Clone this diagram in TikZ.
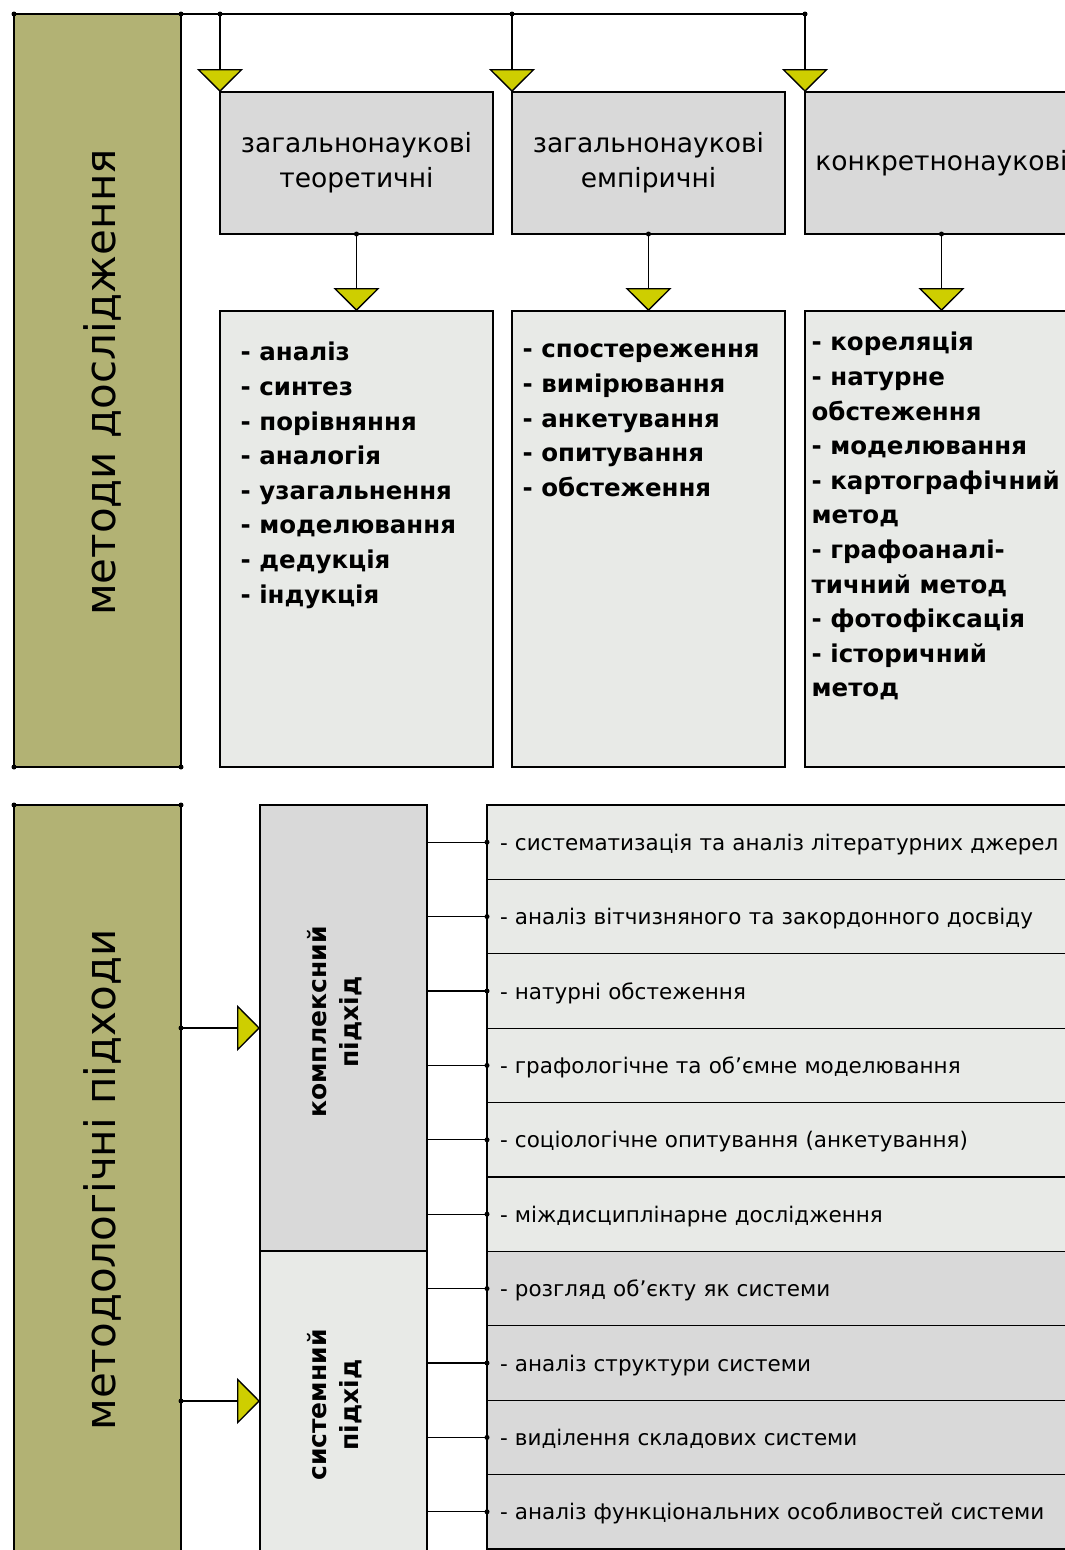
\documentclass[tikz,border=0pt]{standalone}
\usepackage{fontspec}
\setmainfont{DejaVu Sans}
\usetikzlibrary{arrows.meta}
\definecolor{olive}{RGB}{178,178,116}
\definecolor{headgray}{RGB}{217,217,217}
\definecolor{listgray}{RGB}{232,234,231}
\definecolor{tri}{RGB}{206,206,0}

\begin{document}
\begin{tikzpicture}
[x=1pt, y=-1pt, line width=1.3pt,
 sidebox/.style={draw, fill=olive, anchor=north west, minimum width=167pt, inner sep=0pt, outer sep=0pt},
 headbox/.style={draw, fill=headgray, anchor=north west, minimum width=273pt, minimum height=142pt, outer sep=0pt, align=center, font=\fontsize{26.5}{35}\selectfont},
 listbox/.style={draw, fill=listgray, anchor=north west, minimum width=273pt, minimum height=456pt, outer sep=0pt},
 listtext/.style={anchor=north west, align=left, inner sep=0pt, font=\bfseries\fontsize{24.5}{34.6}\selectfont},
 approach/.style={draw, anchor=north west, minimum width=167pt, inner sep=0pt, outer sep=0pt},
 approachtext/.style={rotate=90, align=center, font=\bfseries\fontsize{25}{32}\selectfont},
 rowbox/.style={draw, anchor=north west, minimum height=74.4pt, text width=574pt, text height=19pt, text depth=3pt, inner xsep=13pt, outer sep=0pt, align=left, font=\fontsize{21.5}{26}\selectfont},
 sidetext/.style={rotate=90, font=\fontsize{42}{50}\selectfont},
 feed/.style={-{Triangle[width=46pt,length=23pt,fill=tri]}}
]
\useasboundingbox (0,0) rectangle (1065,1550);

\node [sidebox, minimum height=753pt] (side1) at (14,14) {};
\node [sidetext, xshift=8pt, yshift=-4.5pt] (side1text) at (side1.center) {методи дослідження};

\node [headbox] (teor) at (220,92) {загальнонаукові\\теоретичні};
\node [headbox] (emp) at (512,92) {загальнонаукові\\емпіричні};
\node [headbox] (konk) at (805,92) {конкретнонаукові};

\node [listbox] (teorlist) at (220,311) {};
\node [listbox] (emplist) at (512,311) {};
\node [listbox] (konklist) at (805,311) {};

\node [listtext] (teoritems) at (240,336) {\strut- аналіз\\- синтез\\- порівняння\\- аналогія\\- узагальнення\\- моделювання\\- дедукція\\- індукція};
\node [listtext] (empitems) at (522,333) {\strut- спостереження\\- вимірювання\\- анкетування\\- опитування\\- обстеження};
\node [listtext] (konkitems) at (811,326) {\strut- кореляція\\- натурне\\обстеження\\- моделювання\\- картографічний\\метод\\- графоаналі-\\тичний метод\\- фотофіксація\\- історичний\\метод};

\coordinate (b1) at (teor.north west |- side1.north east);
\coordinate (b2) at (emp.north west |- side1.north east);
\coordinate (b3) at (konk.north west |- side1.north east);
\draw (side1.north east) -- (b3);
\draw [feed] (b1) -- (teor.north west);
\draw [feed] (b2) -- (emp.north west);
\draw [feed] (b3) -- (konk.north west);
\draw [feed] (teor.south) -- (teorlist.north);
\draw [feed] (emp.south) -- (emplist.north);
\draw [feed] (konk.south) -- (konklist.north);
\foreach \p in {side1.north west, side1.north east, side1.south west, side1.south east, b1, b2, b3, teor.south, emp.south, konk.south}
  \fill (\p) circle [radius=2.5pt];

\node [sidebox, minimum height=760pt] (side2) at (14,805) {};
\node [sidetext, xshift=5pt, yshift=-4.5pt] (side2text) at (side2.center) {методологічні підходи};

\node [approach, fill=headgray, minimum height=446pt] (kompl) at (260,805) {};
\node [approach, fill=listgray, minimum height=300pt] (syst) at (kompl.south west) {};
\node [approachtext, xshift=6pt, yshift=8.5pt] (kompltext) at (kompl.center) {комплексний\\підхід};
\node [approachtext, xshift=-4pt, yshift=8.5pt] (systtext) at (syst.center) {системний\\підхід};

\draw [feed] (kompl.west -| side2.east) -- (kompl.west);
\draw [feed] (syst.west -| side2.east) -- (syst.west);
\fill (kompl.west -| side2.east) circle [radius=2.5pt];
\fill (syst.west -| side2.east) circle [radius=2.5pt];
\fill (side2.north west) circle [radius=2.5pt];
\fill (side2.north east) circle [radius=2.5pt];

\node [rowbox, fill=listgray] (r1) at (487,805) {- систематизація та аналіз літературних джерел};
\node [rowbox, fill=listgray] (r2) at (r1.south west) {- аналіз вітчизняного та закордонного досвіду};
\node [rowbox, fill=listgray] (r3) at (r2.south west) {- натурні обстеження};
\node [rowbox, fill=listgray] (r4) at (r3.south west) {- графологічне та об’ємне моделювання};
\node [rowbox, fill=listgray] (r5) at (r4.south west) {- соціологічне опитування (анкетування)};
\node [rowbox, fill=listgray] (r6) at (r5.south west) {- міждисциплінарне дослідження};
\node [rowbox, fill=headgray] (r7) at (r6.south west) {- розгляд об’єкту як системи};
\node [rowbox, fill=headgray] (r8) at (r7.south west) {- аналіз структури системи};
\node [rowbox, fill=headgray] (r9) at (r8.south west) {- виділення складових системи};
\node [rowbox, fill=headgray] (r10) at (r9.south west) {- аналіз функціональних особливостей системи};

\foreach \r in {r1,r2,r3,r4,r5,r6} {
  \draw (kompl.east |- \r.west) -- (\r.west);
  \fill (\r.west) circle [radius=2.5pt];
}
\foreach \r in {r7,r8,r9,r10} {
  \draw (syst.east |- \r.west) -- (\r.west);
  \fill (\r.west) circle [radius=2.5pt];
}
\end{tikzpicture}
\end{document}
